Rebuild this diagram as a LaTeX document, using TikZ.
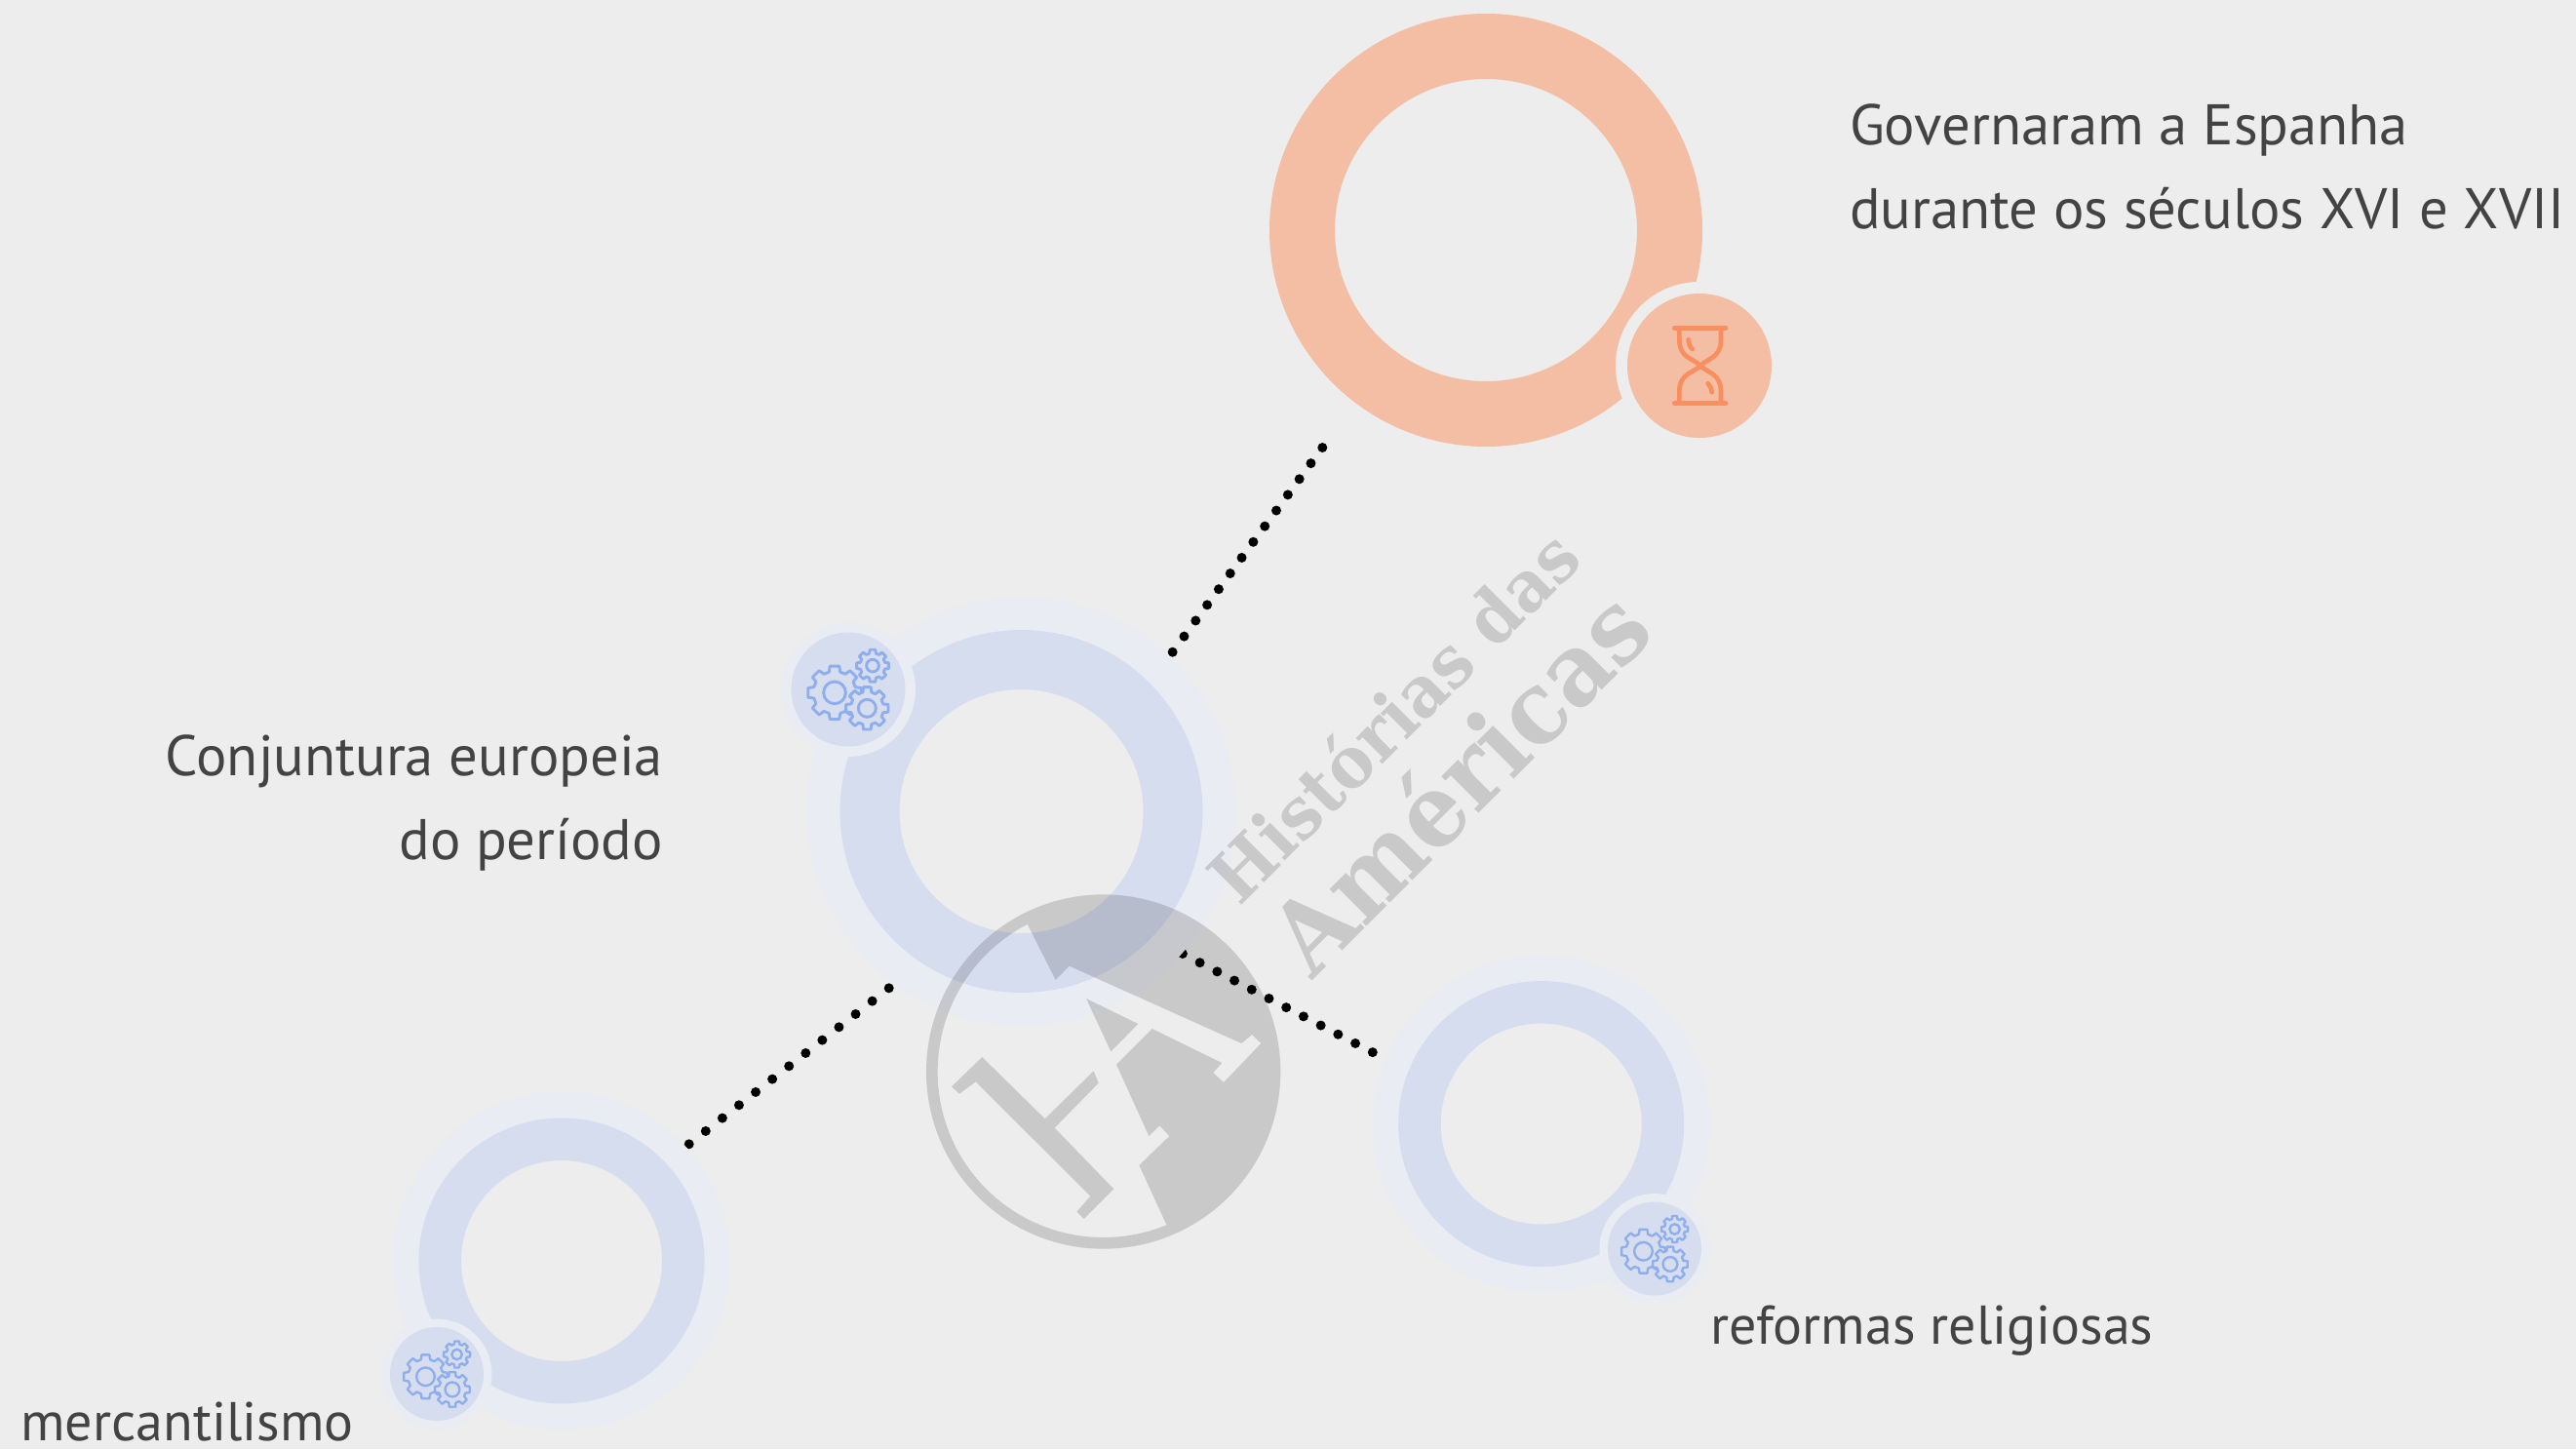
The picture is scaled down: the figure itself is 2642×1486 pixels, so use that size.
\documentclass[tikz,border=0pt]{standalone}
\usepackage{fontspec}
\usepackage{graphicx}
\setmainfont{PT Sans}
\newfontfamily\wmfont{DejaVu Serif}
\definecolor{bgc}{HTML}{EDEDED}
\definecolor{haloc}{HTML}{EAECF3}
\definecolor{ringc}{HTML}{D6DDEF}
\definecolor{orangec}{HTML}{F3BEA3}
\definecolor{hourc}{HTML}{F98F5F}
\definecolor{gearc}{HTML}{8FAEEE}
\definecolor{textc}{HTML}{434343}
\tikzset{
  ringnode/.style={circle,inner sep=0pt,outer sep=0pt,fill=none},
  discnode/.style={circle,inner sep=0pt,outer sep=0pt,draw=none},
  labela/.style={inner sep=0pt,outer sep=0pt,text=textc,font=\fontsize{58.7}{86}\selectfont},
  labelb/.style={inner sep=0pt,outer sep=0pt,text=textc,font=\fontsize{56}{86}\selectfont},
  dots/.style={black,line width=10pt,line cap=round,dash pattern=on 0pt off #1pt},
  wmark/.style={inner sep=0pt,outer sep=0pt,rotate=45,anchor=base west,text=black,text opacity=.15},
  gearline/.style={draw=gearc,fill=ringc,line join=round},
}
% gear: cx cy tip root hole
\newcommand{\cog}[5]{%
  \draw[gearline] ([shift={(#1,#2)}]-10:#3)
    \foreach \a in {0,45,...,315}{
      -- ([shift={(#1,#2)}]\a-10:#3) -- ([shift={(#1,#2)}]\a+10:#3)
      -- ([shift={(#1,#2)}]\a+15:#4) -- ([shift={(#1,#2)}]\a+30:#4)
    } -- cycle;
  \draw[draw=gearc,fill=none] (#1,#2) circle[radius=#5];
}
\newcommand{\gearicon}[3]{%
  \begin{scope}[shift={(#1,#2)},scale=#3/3,line width=#3*2.9pt]
    \cog{-42}{10}{83}{66}{34}
    \cog{58}{58}{66}{51}{27}
    \cog{75}{-73}{50}{39}{19}
  \end{scope}
}
\begin{document}
\begin{tikzpicture}[x=1pt,y=-1pt]
\useasboundingbox (0,0) rectangle (2642,1486);
\fill[bgc] (0,0) rectangle (2642,1486);

% free ends of the connectors
\coordinate (c1a) at (1356.3,459);
\coordinate (c1b) at (1202,669.6);
\coordinate (c2a) at (1212.9,978);
\coordinate (c2b) at (1408.5,1079.5);
\coordinate (c3a) at (911.7,1013.3);
\coordinate (c3b) at (706.3,1173.6);
\draw[dots=20] (c1a) -- (c1b);
\draw[dots=19.96] (c2a) -- (c2b);
\draw[dots=21.67] (c3a) -- (c3b);

% halos
\node[ringnode,draw=haloc,line width=36pt,minimum size=404pt] (halo1) at (1047.5,832) {};
\node[ringnode,draw=haloc,line width=28pt,minimum size=318pt] (halo2) at (576,1293) {};
\node[ringnode,draw=haloc,line width=28pt,minimum size=318pt] (halo3) at (1580.7,1152.5) {};

% rings
\node[ringnode,draw=orangec,line width=67pt,minimum size=377pt] (ringO) at (1524,236) {};
\node[ringnode,draw=ringc,line width=61pt,minimum size=311pt] (ring1) at (1047.5,832) {};
\node[ringnode,draw=ringc,line width=43.5pt,minimum size=249.5pt] (ring2) at (576,1293) {};
\node[ringnode,draw=ringc,line width=43.5pt,minimum size=249.5pt] (ring3) at (1580.7,1152.5) {};

% gaps round the icons
\node[discnode,fill=bgc,minimum size=172pt] (gapO) at (1743,375) {};
\node[discnode,fill=haloc,minimum size=138pt] (gap1) at (870,707) {};
\node[discnode,fill=haloc,minimum size=113pt] (gap2) at (448,1409) {};
\node[discnode,fill=haloc,minimum size=113pt] (gap3) at (1697,1280.5) {};

% icon discs
\node[discnode,fill=orangec,minimum size=148pt] (iconO) at (1743,375) {};
\node[discnode,fill=ringc,minimum size=117pt] (icon1) at (870,707) {};
\node[discnode,fill=ringc,minimum size=96pt] (icon2) at (448,1409) {};
\node[discnode,fill=ringc,minimum size=96pt] (icon3) at (1697,1280.5) {};

\gearicon{870}{707}{1}
\gearicon{448}{1409}{0.823}
\gearicon{1697}{1280.5}{0.823}

% hourglass
\begin{scope}[shift={(1640,280)},scale=1/3,draw=hourc,line width=4.7pt,line cap=round,line join=round]
  \draw (232,170) -- (390,170);
  \draw (232,400) -- (390,400);
  \draw (247,172) -- (247,205) .. controls (247,262) and (290,262) .. (312,285)
        .. controls (334,308) and (375,308) .. (375,365) -- (375,398);
  \draw (375,172) -- (375,205) .. controls (375,262) and (334,262) .. (312,285)
        .. controls (290,308) and (247,308) .. (247,365) -- (247,398);
  \draw (275,205) .. controls (276,218) and (280,228) .. (287,234);
  \draw (335,340) .. controls (342,346) and (346,356) .. (347,367);
\end{scope}

% labels
\node[labela,anchor=base west] (t1a) at (1897,148) {Governaram a Espanha};
\node[labela,anchor=base west] (t1b) at (1897,234) {durante os séculos XVI e XVII};
\node[labela,anchor=base east] (t2a) at (680,795.5) {Conjuntura europeia};
\node[labela,anchor=base east] (t2b) at (680,881.5) {do período};
\node[labelb,anchor=base west] (t3) at (1754,1378.5) {reformas religiosas};
\node[labelb,anchor=base west] (t4) at (21.5,1477.5) {mercantilismo};

% watermark
\begin{scope}[shift={(930,900)},scale=1/3]
\fill[black,fill opacity=.15]
  (1150,597) arc[start angle=0,end angle=-360,radius=545] -- cycle
  (1115,597) arc[start angle=0,end angle=360,radius=510] -- cycle
  (372,145) -- (458,315) -- (500,272) -- (1030,510) -- (1062,483) -- (1090,510)
  -- (975,630) -- (943,600) -- (970,570) -- (755,465) -- (645,575) -- (745,795)
  -- (778,763) -- (808,795) -- (715,885) -- (800,1070)
  arc[start angle=67.6,end angle=-117.5,radius=511] -- cycle
  (552,372) -- (712,450) -- (628,535) -- cycle
  (232,552) -- (425,742) -- (575,595) -- (590,632) -- (455,770) -- (637,958)
  -- (545,1050) -- (523,1028) -- (565,980) -- (212,628) -- (162,665) -- (138,643) -- cycle;
\end{scope}
\node[wmark] (wm1) at (1271.7,930) {\resizebox{500pt}{\height}{\wmfont\bfseries\fontsize{73}{73}\selectfont Histórias das}};
\node[wmark] (wm2) at (1346.7,1005) {\resizebox{500pt}{\height}{\wmfont\bfseries\fontsize{103}{103}\selectfont Américas}};
\end{tikzpicture}
\end{document}
